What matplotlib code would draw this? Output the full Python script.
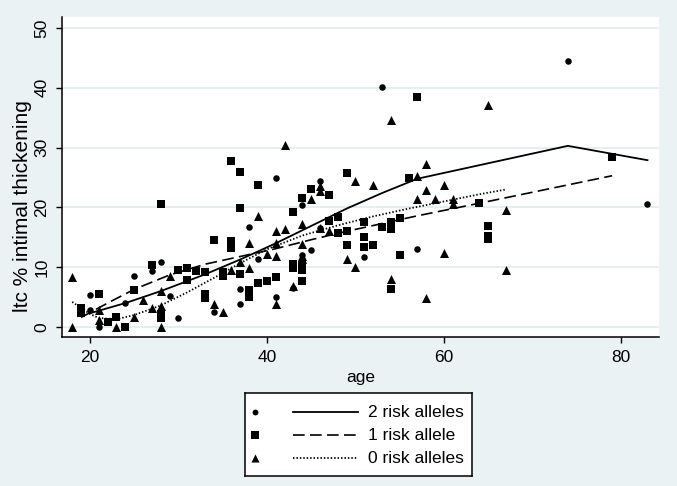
import matplotlib
matplotlib.use("Agg")
import matplotlib.pyplot as plt

plt.rcParams['font.family'] = ['Liberation Sans', 'DejaVu Sans']

# ---- data: 2 risk alleles (circles)
age2 = [20, 20, 21, 24, 25, 27, 28, 29, 30, 34, 37, 37, 38, 39, 41, 41, 43, 44, 44, 45,
        46, 46, 51, 51, 53, 57, 74, 83]
ltc2 = [5.4, 2.8, 0.0, 4.0, 8.5, 9.3, 10.9, 5.2, 1.5, 2.5, 3.8, 6.3, 16.7, 11.3, 25.0, 5.0,
        6.5, 20.4, 12.1, 12.9, 24.5, 16.6, 11.7, 17.5, 40.2, 13.0, 44.5, 20.6]

# ---- data: 1 risk allele (squares)
age1 = [19, 19, 21, 22, 23, 24, 25, 27, 28, 28, 28, 30, 31, 31, 32, 33, 33, 33, 34, 35,
        35, 36, 36, 36, 37, 37, 37, 38, 38, 39, 39, 40, 41, 43, 43, 43, 44, 44, 44, 44,
        45, 47, 47, 48, 48, 49, 49, 49, 51, 51, 51, 52, 53, 54, 54, 55, 55, 54, 56, 57,
        64, 65, 65, 65, 79]
ltc1 = [3.1, 2.4, 5.6, 0.8, 1.7, 0.0, 6.2, 10.3, 20.6, 2.2, 1.5, 9.5, 9.9, 7.8, 9.3, 9.2,
        5.6, 4.8, 14.5, 9.2, 8.5, 27.8, 14.4, 13.2, 25.9, 19.9, 8.9, 6.2, 5.0, 23.7, 7.3,
        7.7, 8.3, 19.2, 10.5, 9.8, 21.5, 10.3, 9.5, 7.7, 23.0, 22.0, 17.8, 18.4, 15.7,
        25.8, 16.0, 13.7, 17.5, 15.0, 13.3, 13.8, 16.8, 17.5, 16.4, 18.2, 12.1, 6.3, 24.9,
        38.5, 20.7, 16.9, 15.2, 14.7, 28.5]

# ---- data: 0 risk alleles (triangles)
age0 = [18, 18, 21, 21, 23, 25, 26, 27, 28, 28, 28, 29, 34, 35, 36, 37, 38, 38, 39, 40,
        41, 41, 41, 41, 42, 42, 43, 44, 44, 44, 44, 45, 46, 46, 46, 47, 49, 50, 50, 52,
        54, 54, 57, 57, 58, 58, 58, 59, 60, 60, 61, 61, 65, 67, 67]
ltc0 = [8.4, 0.0, 2.8, 1.2, 0.0, 1.6, 4.6, 3.1, 6.1, 3.5, 0.0, 8.5, 3.8, 2.5, 9.6, 10.8,
        9.9, 14.0, 18.5, 12.2, 16.1, 14.0, 11.9, 3.8, 30.5, 16.4, 6.8, 17.2, 13.9, 11.9,
        11.4, 21.4, 23.6, 22.8, 16.6, 16.1, 11.4, 24.4, 10.0, 23.8, 34.7, 8.0, 25.3, 21.4,
        27.3, 22.9, 4.8, 21.4, 23.7, 12.3, 21.4, 20.6, 37.1, 19.6, 9.5]

# ---- smoothed fits
fit2_age = [20, 24, 28, 33, 37, 41, 45, 49, 53, 57, 74, 83]
fit2_val = [2.3, 4.0, 6.0, 8.8, 11.3, 14.0, 16.9, 19.8, 22.4, 24.8, 30.3, 27.9]
fit1_age = [19, 22, 25, 29, 33, 37, 41, 45, 49, 53, 57, 64, 79]
fit1_val = [1.6, 4.0, 6.3, 8.7, 10.5, 11.8, 13.1, 14.6, 16.0, 17.3, 18.6, 20.7, 25.3]
fit0_age = [18, 20, 21, 23, 25, 28, 31, 34, 37, 40, 44, 48, 52, 56, 60, 64, 67]
fit0_val = [4.2, 2.2, 1.5, 1.3, 2.0, 3.6, 5.8, 8.2, 10.7, 13.0, 15.3, 17.0, 18.5, 19.8,
            21.0, 22.2, 23.0]

xticks = [20, 40, 60, 80]
yticks = [0, 10, 20, 30, 40, 50]
labels = ["2 risk alleles", "1 risk allele", "0 risk alleles"]

BG = "#EAF2F3"
GRID = "#E3EEF0"
W, H = 677, 486
fig = plt.figure(figsize=(W / 100, H / 100), dpi=100, facecolor=BG)

L, R, T, B = 62, 659, 17, 337
ax = fig.add_axes([L / W, 1 - B / H, (R - L) / W, (B - T) / H])
ax.set_facecolor("white")
ax.set_xlim(16.85, 84.3)
ax.set_ylim(-1.67, 51.85)

for s in ["top", "right"]:
    ax.spines[s].set_visible(False)
for s in ["left", "bottom"]:
    ax.spines[s].set_linewidth(1.1)
    ax.spines[s].set_color("black")

ax.set_yticks(yticks)
ax.set_xticks(xticks)
ax.grid(axis="y", color=GRID, lw=1.3, zorder=0)
ax.set_axisbelow(True)
ax.tick_params(axis="both", direction="out", length=4.5, width=1.0, color="black",
               labelsize=12.5, pad=4.5)
ax.tick_params(axis="y", labelrotation=90)
for lab in ax.get_yticklabels():
    lab.set_va("center")

MS = {"o": 22, "s": 32, "^": 42}
ax.scatter(age2, ltc2, marker="o", s=MS["o"], color="black", linewidths=0, zorder=3)
ax.scatter(age1, ltc1, marker="s", s=MS["s"], color="black", linewidths=0, zorder=3)
ax.scatter(age0, ltc0, marker="^", s=MS["^"], color="black", linewidths=0, zorder=3)

ST = [("-", 1.3), ((0, (7, 3.2)), 1.2), ((0, (0.8, 1.1)), 1.3)]
ax.plot(fit2_age, fit2_val, color="black", lw=ST[0][1], ls=ST[0][0], zorder=4)
ax.plot(fit1_age, fit1_val, color="black", lw=ST[1][1], ls=ST[1][0], zorder=4)
ax.plot(fit0_age, fit0_val, color="black", lw=ST[2][1], ls=ST[2][0], zorder=4)

ax.set_xlabel("age", fontsize=12.5)
ax.xaxis.set_label_coords(0.5, -(377 - B) / (B - T))
ax.xaxis.label.set_va("center")
ax.set_ylabel("ltc % intimal thickening", fontsize=15)
ax.yaxis.set_label_coords((23 - L) / (R - L), (B - 206) / (B - T))
ax.yaxis.label.set_va("center")

# ---- legend box
lx0, lx1, ly0, ly1 = 245, 472, 393, 476
lax = fig.add_axes([lx0 / W, 1 - ly1 / H, (lx1 - lx0) / W, (ly1 - ly0) / H])
lax.set_xlim(0, lx1 - lx0)
lax.set_ylim(ly1 - ly0, 0)
lax.set_xticks([])
lax.set_yticks([])
lax.set_facecolor("white")
for s in lax.spines.values():
    s.set_linewidth(1.1)
    s.set_color("black")
rows = [19, 42, 65]
mk = ["o", "s", "^"]
for yv, m, (ls, lw), txt in zip(rows, mk, ST, labels):
    lax.scatter([10], [yv], marker=m, s=MS[m] * 0.8, color="black", linewidths=0)
    lax.plot([48, 113], [yv, yv], color="black", ls=ls, lw=lw)
    lax.text(123, yv, txt, fontsize=12.5, va="center", ha="left")

fig.savefig("out.png", dpi=100, facecolor=BG)
